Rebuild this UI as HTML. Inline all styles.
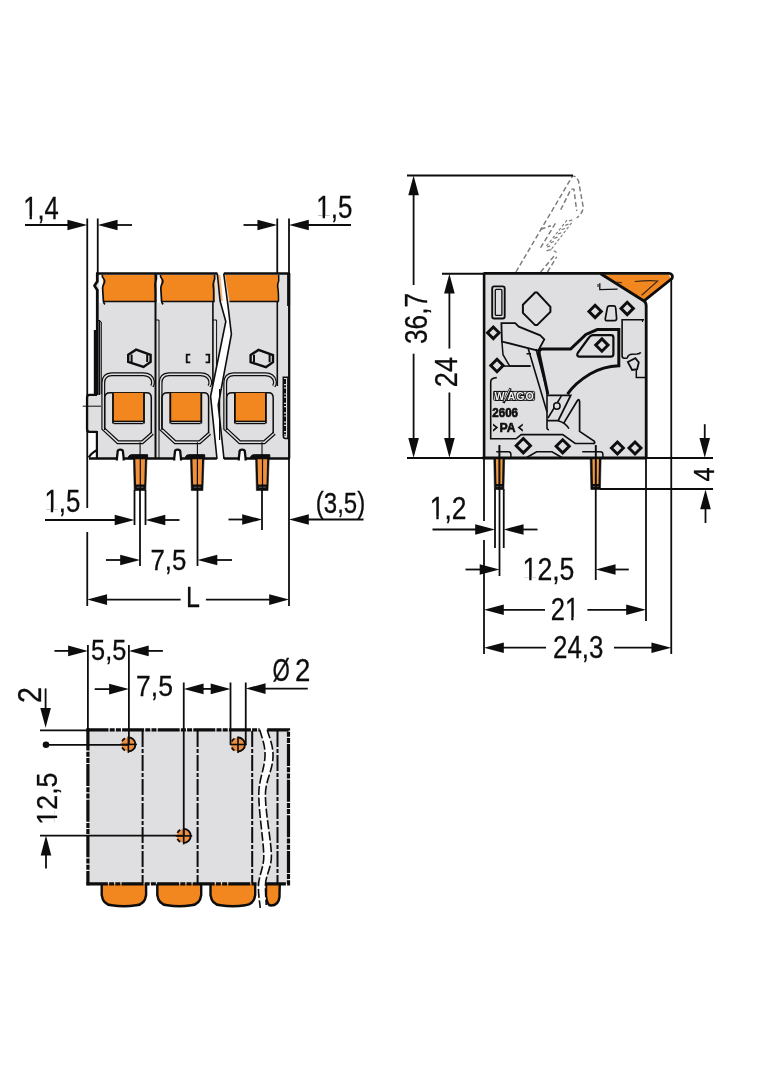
<!DOCTYPE html><html><head><meta charset="utf-8"><style>html,body{margin:0;padding:0;background:#fff;}svg{display:block;will-change:transform;}text{font-family:"Liberation Sans",sans-serif;}</style></head><body>
<svg width="784" height="1066" viewBox="0 0 784 1066">
<rect width="784" height="1066" fill="#fff"/>
<rect x="97" y="273.5" width="192.4" height="185" fill="#dfdfe1"/>
<rect x="98.7" y="275" width="4.8" height="28" fill="#f4f8fc"/>
<rect x="156.4" y="275" width="5.4" height="28" fill="#f4f8fc"/>
<rect x="103" y="275" width="53.5" height="26.5" fill="#f2861f"/>
<rect x="161" y="275" width="53.8" height="26.5" fill="#f2861f"/>
<polygon points="225.1,275 278.7,275 278.7,301.5 229.5,301.5" fill="#f2861f"/>
<line x1="103.50" y1="301.50" x2="156.50" y2="301.50" stroke="#0d0d0d" stroke-width="1.60" />
<line x1="161.50" y1="301.50" x2="214.80" y2="301.50" stroke="#0d0d0d" stroke-width="1.60" />
<line x1="229.50" y1="301.50" x2="278.70" y2="301.50" stroke="#0d0d0d" stroke-width="1.60" />
<path d="M102.2,275 L102.5,277 Q105.0,280 104.6,282 Q102.6,286 102.6,288 L103.4,301.5 Q104.0,303.5 105.0,304.3" fill="none" stroke="#0d0d0d" stroke-width="1.70" />
<path d="M160.4,275 L160.7,277 Q163.2,280 162.8,282 Q160.8,286 160.8,288 L161.6,301.5 Q162.2,303.5 163.2,304.3" fill="none" stroke="#0d0d0d" stroke-width="1.70" />
<path d="M156.4,275 L156.4,279 Q154.8,283 155.0,285 Q155.6,289 155.5,293 L155.5,301.5" fill="none" stroke="#0d0d0d" stroke-width="1.70" />
<path d="M214.6,275 L214.6,279 Q213.0,283 213.2,285 Q213.8,289 213.7,293 L213.7,301.5" fill="none" stroke="#0d0d0d" stroke-width="1.70" />
<path d="M278.7,275 L278.7,281 Q277.2,284 277.6,287 Q278.6,290 278.5,301.5" fill="none" stroke="#0d0d0d" stroke-width="1.50" />
<path d="M97.3,273 L97.3,281.5 Q95.5,284 94.6,285.7 Q95.5,287.5 97.3,290 L97.3,395" fill="none" stroke="#0d0d0d" stroke-width="2.80" />
<path d="M95.6,330 L95.6,394.5" fill="none" stroke="#0d0d0d" stroke-width="3.60" />
<line x1="99.60" y1="320.00" x2="99.60" y2="395.00" stroke="#0d0d0d" stroke-width="1.20" />
<path d="M97.5,320 L101.3,322 L101.3,394" fill="none" stroke="#0d0d0d" stroke-width="1.00" />
<path d="M97,394.8 L89.5,394.8 Q87,394.8 87,397.5 L87,429 Q87,431.8 89.5,431.8 L97,431.8" fill="#dfdfe1" stroke="#0d0d0d" stroke-width="2.20" />
<line x1="82.70" y1="406.20" x2="101.00" y2="406.20" stroke="#0d0d0d" stroke-width="1.00" />
<line x1="96.90" y1="431.00" x2="96.90" y2="458.00" stroke="#0d0d0d" stroke-width="2.20" />
<path d="M88.6,457.5 Q91,453.8 93,452.6 Q95,451.3 96.8,450.3" fill="none" stroke="#0d0d0d" stroke-width="2.20" />
<line x1="155.50" y1="273.00" x2="155.50" y2="458.00" stroke="#0d0d0d" stroke-width="2.00" />
<line x1="159.00" y1="320.00" x2="159.00" y2="458.00" stroke="#0d0d0d" stroke-width="1.00" />
<path d="M155.5,320 L159,320" fill="none" stroke="#0d0d0d" stroke-width="1.00" />
<line x1="212.90" y1="301.50" x2="212.90" y2="384.50" stroke="#0d0d0d" stroke-width="1.60" />
<line x1="216.60" y1="320.00" x2="216.60" y2="383.00" stroke="#0d0d0d" stroke-width="1.00" />
<path d="M212.9,320 L216.6,320" fill="none" stroke="#0d0d0d" stroke-width="1.00" />
<line x1="277.30" y1="301.00" x2="277.30" y2="386.00" stroke="#0d0d0d" stroke-width="1.60" />
<line x1="288.60" y1="273.00" x2="288.60" y2="306.00" stroke="#0d0d0d" stroke-width="3.00" />
<line x1="289.40" y1="273.00" x2="289.40" y2="458.50" stroke="#0d0d0d" stroke-width="1.80" />
<path d="M283.3,377.2 L287.9,377.2 L287.9,438.5 L285.6,438.5 Q283.3,438.5 283.3,436 Z" fill="#dfdfe1" stroke="#0d0d0d" stroke-width="1.50" />
<line x1="285.00" y1="379.00" x2="285.00" y2="436.00" stroke="#0d0d0d" stroke-width="2.00" stroke-dasharray="5 1.2 2 1.2"/>
<line x1="96.00" y1="273.50" x2="289.80" y2="273.50" stroke="#0d0d0d" stroke-width="2.50" />
<line x1="89.00" y1="458.50" x2="290.00" y2="458.50" stroke="#0d0d0d" stroke-width="2.60" />
<g transform="translate(-57.30 0)">
<path d="M209.2,386.2 Q210.6,384 210.3,381.5 Q209,374.4 200.5,374.3 L169,374.3 Q160.6,374.6 160.6,383 L160.6,428.6 L175.2,442.2 L199.6,442.2 L209.8,433.3" fill="none" stroke="#0d0d0d" stroke-width="3.90" />
<path d="M209.2,386.2 Q210.6,384 210.3,381.5 Q209,374.4 200.5,374.3 L169,374.3 Q160.6,374.6 160.6,383 L160.6,428.6 L175.2,442.2 L199.6,442.2 L209.8,433.3" fill="none" stroke="#dfdfe1" stroke-width="1.50" />
<path d="M162,430 L162,398 Q162,392.8 167.5,392.8 L204,392.8 Q208.6,392.8 208.6,398 L208.6,433.3" fill="none" stroke="#0d0d0d" stroke-width="1.50" />
<rect x="169.5" y="392.9" width="32.6" height="28.3" fill="#f2861f"/>
<path d="M170.3,393 L170.3,423.5 M201.3,393 L201.3,423.5" fill="none" stroke="#0d0d0d" stroke-width="1.80" />
<line x1="170.30" y1="421.40" x2="201.30" y2="421.40" stroke="#0d0d0d" stroke-width="1.50" />
<line x1="171.00" y1="423.60" x2="200.60" y2="423.60" stroke="#0d0d0d" stroke-width="1.20" />
<path d="M174.2,460.5 L174.2,458.5 L175,451.5 Q175,449.6 177.6,449.6 Q180.2,449.6 180.2,451.5 L181,458.5 L181,460.5" fill="#fff" stroke="#0d0d0d" stroke-width="2.30" />
<line x1="197.40" y1="442.20" x2="197.40" y2="456.00" stroke="#0d0d0d" stroke-width="1.10" />
</g>
<g transform="translate(0.00 0)">
<path d="M209.2,386.2 Q210.6,384 210.3,381.5 Q209,374.4 200.5,374.3 L169,374.3 Q160.6,374.6 160.6,383 L160.6,428.6 L175.2,442.2 L199.6,442.2 L209.8,433.3" fill="none" stroke="#0d0d0d" stroke-width="3.90" />
<path d="M209.2,386.2 Q210.6,384 210.3,381.5 Q209,374.4 200.5,374.3 L169,374.3 Q160.6,374.6 160.6,383 L160.6,428.6 L175.2,442.2 L199.6,442.2 L209.8,433.3" fill="none" stroke="#dfdfe1" stroke-width="1.50" />
<path d="M162,430 L162,398 Q162,392.8 167.5,392.8 L204,392.8 Q208.6,392.8 208.6,398 L208.6,433.3" fill="none" stroke="#0d0d0d" stroke-width="1.50" />
<rect x="169.5" y="392.9" width="32.6" height="28.3" fill="#f2861f"/>
<path d="M170.3,393 L170.3,423.5 M201.3,393 L201.3,423.5" fill="none" stroke="#0d0d0d" stroke-width="1.80" />
<line x1="170.30" y1="421.40" x2="201.30" y2="421.40" stroke="#0d0d0d" stroke-width="1.50" />
<line x1="171.00" y1="423.60" x2="200.60" y2="423.60" stroke="#0d0d0d" stroke-width="1.20" />
<path d="M174.2,460.5 L174.2,458.5 L175,451.5 Q175,449.6 177.6,449.6 Q180.2,449.6 180.2,451.5 L181,458.5 L181,460.5" fill="#fff" stroke="#0d0d0d" stroke-width="2.30" />
<line x1="197.40" y1="442.20" x2="197.40" y2="456.00" stroke="#0d0d0d" stroke-width="1.10" />
</g>
<g transform="translate(64.60 0)">
<path d="M209.2,386.2 Q210.6,384 210.3,381.5 Q209,374.4 200.5,374.3 L169,374.3 Q160.6,374.6 160.6,383 L160.6,428.6 L175.2,442.2 L199.6,442.2 L209.8,433.3" fill="none" stroke="#0d0d0d" stroke-width="3.90" />
<path d="M209.2,386.2 Q210.6,384 210.3,381.5 Q209,374.4 200.5,374.3 L169,374.3 Q160.6,374.6 160.6,383 L160.6,428.6 L175.2,442.2 L199.6,442.2 L209.8,433.3" fill="none" stroke="#dfdfe1" stroke-width="1.50" />
<path d="M162,430 L162,398 Q162,392.8 167.5,392.8 L204,392.8 Q208.6,392.8 208.6,398 L208.6,433.3" fill="none" stroke="#0d0d0d" stroke-width="1.50" />
<rect x="169.5" y="392.9" width="32.6" height="28.3" fill="#f2861f"/>
<path d="M170.3,393 L170.3,423.5 M201.3,393 L201.3,423.5" fill="none" stroke="#0d0d0d" stroke-width="1.80" />
<line x1="170.30" y1="421.40" x2="201.30" y2="421.40" stroke="#0d0d0d" stroke-width="1.50" />
<line x1="171.00" y1="423.60" x2="200.60" y2="423.60" stroke="#0d0d0d" stroke-width="1.20" />
<path d="M174.2,460.5 L174.2,458.5 L175,451.5 Q175,449.6 177.6,449.6 Q180.2,449.6 180.2,451.5 L181,458.5 L181,460.5" fill="#fff" stroke="#0d0d0d" stroke-width="2.30" />
<line x1="197.40" y1="442.20" x2="197.40" y2="456.00" stroke="#0d0d0d" stroke-width="1.10" />
</g>
<path d="M128.2,354.8 L136.1,349.7 L150.6,354.8 L150.6,361.9 L143.5,367.0 L128.2,361.9 Z" fill="#dfdfe1" stroke="#0d0d0d" stroke-width="2.40" stroke-linejoin="miter"/>
<line x1="131.60" y1="354.60" x2="131.60" y2="362.00" stroke="#0d0d0d" stroke-width="2.00" />
<line x1="147.20" y1="354.60" x2="147.20" y2="362.00" stroke="#0d0d0d" stroke-width="2.00" />
<path d="M250.6,355.1 L258.5,349.9 L273.0,355.1 L273.0,362.1 L265.9,367.2 L250.6,362.1 Z" fill="#dfdfe1" stroke="#0d0d0d" stroke-width="2.40" stroke-linejoin="miter"/>
<line x1="254.00" y1="354.85" x2="254.00" y2="362.25" stroke="#0d0d0d" stroke-width="2.00" />
<line x1="269.60" y1="354.85" x2="269.60" y2="362.25" stroke="#0d0d0d" stroke-width="2.00" />
<path d="M190.3,354.7 h-3.6 v7.6 h3.6" fill="none" stroke="#0d0d0d" stroke-width="1.80" />
<path d="M205.6,354.7 h3.6 v7.6 h-3.6" fill="none" stroke="#0d0d0d" stroke-width="1.80" />
<polygon points="217.3,271.5 220.1,301 225.8,321.5 210.6,396.3 217,461 224,461 218.2,405 231.4,334.2 228.2,307.4 223.7,271.5" fill="#fff"/>
<polygon points="217.8,275 220.5,301 222.8,301 220.5,275" fill="#f2861f" opacity="0.6"/>
<path d="M217.3,273.5 L218.5,285 L220.1,301 L225.8,321.5 L210.6,396.3 L217,459" fill="none" stroke="#0d0d0d" stroke-width="1.60" />
<path d="M223.7,273.5 L228.2,307.4 L231.4,334.2 L218.2,405 L224,459" fill="none" stroke="#0d0d0d" stroke-width="1.60" />
<line x1="219.60" y1="389.00" x2="219.60" y2="440.00" stroke="#0d0d0d" stroke-width="1.20" />
<path d="M127.9,458.6 L128.9,456 Q129.9,454.7 131.9,454.7 L147.6,454.7 L147.6,458.6 Z" fill="#0d0d0d" stroke="#0d0d0d" stroke-width="1.00" />
<polygon points="133.4,458 134.2,490.5 145.8,490.5 147.0,458" fill="#0d0d0d" stroke="#0d0d0d" stroke-width="0.6" stroke-linejoin="round"/>
<polygon points="135.3,459.3 136.0,484.6 144.3,484.6 145.0,459.3" fill="#f0903a"/>
<line x1="136.70" y1="487.20" x2="143.50" y2="487.20" stroke="#777" stroke-width="0.80" />
<line x1="140.30" y1="455.00" x2="140.30" y2="491.00" stroke="#0d0d0d" stroke-width="1.20" />
<path d="M185.0,458.6 L186.0,456 Q187.0,454.7 189.0,454.7 L204.7,454.7 L204.7,458.6 Z" fill="#0d0d0d" stroke="#0d0d0d" stroke-width="1.00" />
<polygon points="190.5,458 191.3,490.5 202.9,490.5 204.1,458" fill="#0d0d0d" stroke="#0d0d0d" stroke-width="0.6" stroke-linejoin="round"/>
<polygon points="192.4,459.3 193.1,484.6 201.4,484.6 202.1,459.3" fill="#f0903a"/>
<line x1="193.80" y1="487.20" x2="200.60" y2="487.20" stroke="#777" stroke-width="0.80" />
<line x1="197.40" y1="455.00" x2="197.40" y2="491.00" stroke="#0d0d0d" stroke-width="1.20" />
<path d="M250.1,458.6 L251.1,456 Q252.1,454.7 254.1,454.7 L269.8,454.7 L269.8,458.6 Z" fill="#0d0d0d" stroke="#0d0d0d" stroke-width="1.00" />
<polygon points="255.6,458 256.4,490.5 268.0,490.5 269.2,458" fill="#0d0d0d" stroke="#0d0d0d" stroke-width="0.6" stroke-linejoin="round"/>
<polygon points="257.5,459.3 258.2,484.6 266.5,484.6 267.2,459.3" fill="#f0903a"/>
<line x1="258.90" y1="487.20" x2="265.70" y2="487.20" stroke="#777" stroke-width="0.80" />
<line x1="262.50" y1="455.00" x2="262.50" y2="491.00" stroke="#0d0d0d" stroke-width="1.20" />
<path d="M515.9,272 L572.2,176.5 Q575.5,174.8 578.5,181 L583.1,206.3 Q583.4,213 576.7,217.8" fill="none" stroke="#7a7a7a" stroke-width="1.45" stroke-dasharray="5 2.8" stroke-linecap="butt"/>
<path d="M560.7,209.8 L571,189.1 L573.9,189.1 L576.7,210.9" fill="none" stroke="#7a7a7a" stroke-width="1.45" stroke-dasharray="5 2.8" stroke-linecap="butt"/>
<path d="M540.6,247.7 L556.7,221.3" fill="none" stroke="#7a7a7a" stroke-width="1.45" stroke-dasharray="5 2.8" stroke-linecap="butt"/>
<path d="M540.6,229.3 L550.9,225.8" fill="none" stroke="#7a7a7a" stroke-width="1.45" stroke-dasharray="5 2.8" stroke-linecap="butt"/>
<path d="M540.6,272 L555.5,254.5 M547.5,272 L556.7,256.8" fill="none" stroke="#7a7a7a" stroke-width="1.45" stroke-dasharray="5 2.8" stroke-linecap="butt"/>
<path d="M547.0,247.0 l3.2,-1.2 M550.7,242.7 l3.2,-1.2 M554.3,238.3 l3.2,-1.2 M558.0,234.0 l3.2,-1.2 M561.7,229.7 l3.2,-1.2 M565.3,225.3 l3.2,-1.2 M569.0,221.0 l3.2,-1.2" fill="none" stroke="#7a7a7a" stroke-width="1.30" />
<path d="M546.5,246 L567.5,219.5 M551.5,249 L573,221" fill="none" stroke="#7a7a7a" stroke-width="1.10" stroke-dasharray="3 2"/>
<path d="M546.5,251 Q551,248 556.5,252.5" fill="none" stroke="#7a7a7a" stroke-width="1.20" stroke-dasharray="5 2.8" stroke-linecap="butt"/>
<polygon points="484.1,273.3 600.3,273.3 644,301 646,305 646,458 484.1,458" fill="#dfdfe1"/>
<polygon points="603,274.6 668.5,274.6 671,278.5 644,300.5" fill="#f2861f"/>
<path d="M484.1,273.4 L669,273.4 Q673.5,274 672,278.5 L644,300.8" fill="none" stroke="#0d0d0d" stroke-width="2.80" />
<path d="M600.3,273.5 L644,301 Q646.2,302.5 646.2,306 L646.2,458" fill="none" stroke="#0d0d0d" stroke-width="2.80" />
<path d="M634.8,281.5 Q650,280 657.7,281 L641.7,295.3" fill="none" stroke="#3a2a1a" stroke-width="1.20" />
<path d="M615.3,282 L622.1,282.7" fill="none" stroke="#3a2a1a" stroke-width="1.10" />
<path d="M599.8,283.2 L599.8,289.6 L617.6,289.2" fill="none" stroke="#0d0d0d" stroke-width="1.30" />
<line x1="484.10" y1="272.50" x2="484.10" y2="459.00" stroke="#0d0d0d" stroke-width="2.60" />
<line x1="482.50" y1="458.00" x2="647.00" y2="458.00" stroke="#0d0d0d" stroke-width="2.80" />
<rect x="492.2" y="286.4" width="12.5" height="32.1" rx="2" fill="none" stroke="#0d0d0d" stroke-width="1.9"/>
<rect x="495.3" y="289.4" width="6.6" height="26" rx="1" fill="none" stroke="#0d0d0d" stroke-width="1.3"/>
<path d="M522.9,304.7 L535.1,292.5 L537.1,292.5 L550.4,306.8 L550.4,311.9 L537.1,325.1 L535.1,325.1 L522.9,312.9 Z" fill="none" stroke="#0d0d0d" stroke-width="2.00" />
<path d="M493.3,327.0 L499.1,332.8 L493.3,338.6 L487.5,332.8 Z" fill="none" stroke="#0d0d0d" stroke-width="2.90" stroke-linejoin="miter"/>
<path d="M497.0,359.3 L503.2,365.5 L497.0,371.7 L490.8,365.5 Z" fill="none" stroke="#0d0d0d" stroke-width="2.90" stroke-linejoin="miter"/>
<path d="M595.1,305.2 L601.3,311.4 L595.1,317.6 L588.9,311.4 Z" fill="none" stroke="#0d0d0d" stroke-width="2.90" stroke-linejoin="miter"/>
<path d="M627.2,302.2 L633.4,308.4 L627.2,314.6 L621.0,308.4 Z" fill="none" stroke="#0d0d0d" stroke-width="2.90" stroke-linejoin="miter"/>
<path d="M601.9,338.9 L608.1,345.1 L601.9,351.3 L595.7,345.1 Z" fill="none" stroke="#0d0d0d" stroke-width="2.90" stroke-linejoin="miter"/>
<path d="M523.3,438.5 L530.5,445.7 L523.3,452.9 L516.1,445.7 Z" fill="none" stroke="#0d0d0d" stroke-width="2.90" stroke-linejoin="miter"/>
<path d="M562.7,439.7 L569.3,446.3 L562.7,452.9 L556.1,446.3 Z" fill="none" stroke="#0d0d0d" stroke-width="2.90" stroke-linejoin="miter"/>
<path d="M617.4,442.0 L623.4,448.0 L617.4,454.0 L611.4,448.0 Z" fill="none" stroke="#0d0d0d" stroke-width="2.90" stroke-linejoin="miter"/>
<path d="M635.0,442.0 L641.0,448.0 L635.0,454.0 L629.0,448.0 Z" fill="none" stroke="#0d0d0d" stroke-width="2.90" stroke-linejoin="miter"/>
<path d="M609.5,305.9 L614,305.9 Q615.5,306 615.7,308 L616.6,318.5 Q616.6,320.7 614.5,320.7 L607,320.7 Q605,320.7 605.3,318.5 L607.3,308 Q607.7,305.9 609.5,305.9 Z" fill="none" stroke="#0d0d0d" stroke-width="1.70" />
<path d="M501.4,323.1 L515.2,323.1 L518.8,326.7 L540.2,335.3 L544.3,339.4 L538.2,350.7 L530,348.6 L501.9,341.5 Z" fill="none" stroke="#0d0d0d" stroke-width="1.80" />
<path d="M501.9,341.5 L503,354.7 L509.6,366 L530.5,366" fill="none" stroke="#0d0d0d" stroke-width="1.50" />
<path d="M528,348 L547,412" fill="none" stroke="#0d0d0d" stroke-width="1.60" />
<path d="M547,393 L547,428.5 Q547.5,429.8 549,429.6" fill="none" stroke="#0d0d0d" stroke-width="1.60" />
<path d="M536,349 L548.1,394.4" fill="none" stroke="#0d0d0d" stroke-width="1.60" />
<path d="M526.5,353.8 L531,353.8" fill="none" stroke="#0d0d0d" stroke-width="1.50" />
<path d="M538.9,353.5 Q538.9,349.1 542.5,349.1 L570.6,349.1 L585.9,334.4 L597.3,329.5 L618.8,329.5 L618.8,365.8 Q603,366.5 590,374 Q575,383 567.5,394.2" fill="none" stroke="#0d0d0d" stroke-width="3.00" />
<path d="M538.9,352.5 L547.8,394" fill="none" stroke="#0d0d0d" stroke-width="3.00" />
<path d="M579,356.6 Q576,356 578,352.5 L589,337.5 Q590.5,335.2 593,335.2 L611,335.2 Q613.4,335.2 613.4,337.5 L613.4,354 Q613.4,356.6 611,356.6 Z" fill="none" stroke="#0d0d0d" stroke-width="2.20" />
<path d="M547,395.3 L570.7,395.3 L558.2,420.7 L547,420.7" fill="none" stroke="#0d0d0d" stroke-width="1.80" />
<path d="M558.2,420.7 Q566,423 568.9,428.75" fill="none" stroke="#0d0d0d" stroke-width="1.60" />
<path d="M561.3,396.2 L548,418" fill="none" stroke="#0d0d0d" stroke-width="1.60" />
<circle cx="556.9" cy="406" r="3.2" fill="#dfdfe1" stroke="#0d0d0d" stroke-width="1.5"/>
<path d="M563.6,423.4 L577.3,400.8 Q578.9,398.2 579.6,401.5 L579.6,431.4 L594.4,441.25 Q595.5,443.5 593,443.5" fill="none" stroke="#0d0d0d" stroke-width="1.70" />
<path d="M496.8,377.6 Q490.7,377.8 490.7,382 L490.7,438.8 L516,438.8 L521.3,434.6 L562.7,434.6 L575.2,443.5 L593.5,443.5" fill="none" stroke="#0d0d0d" stroke-width="1.60" />
<path d="M525.9,458 L536.6,451.8 L552,451.8 L562.7,458" fill="none" stroke="#0d0d0d" stroke-width="1.60" />
<path d="M503.5,366.1 L530.5,366.1" fill="none" stroke="#0d0d0d" stroke-width="1.50" />
<path d="M644,319.8 L622.1,319.8 L622.1,356 Q622.1,358.2 624.5,358.2 L626.3,358.2 Q627.8,358 627.8,356.5 Q628.5,354.5 632,354.2 L637,354 Q640,353.8 640.7,352.3" fill="none" stroke="#0d0d0d" stroke-width="1.60" />
<path d="M642.5,319.8 L642.5,322" fill="none" stroke="#0d0d0d" stroke-width="1.20" />
<path d="M627.8,362 L635.4,358.2 L638.8,362.4 L637.1,369.2 L632.1,370 Z" fill="none" stroke="#0d0d0d" stroke-width="1.80" />
<path d="M636.3,370 L636.3,377.6 L645.7,377.6" fill="none" stroke="#0d0d0d" stroke-width="1.50" />
<path d="M598,287 L598,284" fill="none" stroke="#0d0d0d" stroke-width="1.00" />
<path d="M496.3,451.8 L508.4,451.8 Q510.9,451.8 510.9,454.5 L510.9,458" fill="none" stroke="#0d0d0d" stroke-width="1.50" />
<path d="M582.2,451.8 L600.4,451.8 Q602.9,451.8 602.9,454.5 L602.9,458" fill="none" stroke="#0d0d0d" stroke-width="1.50" />
<rect x="493.6" y="391.4" width="41" height="9" rx="1" fill="none" stroke="#0d0d0d" stroke-width="0.9"/>
<text transform="translate(494.6 399.8) scale(1.0 1)" font-size="10.6" font-weight="bold" fill="#f2f2f2" stroke="#0d0d0d" stroke-width="1.9" paint-order="stroke" letter-spacing="0.4">W</text>
<text transform="translate(507.6 399.8) scale(1.0 1)" font-size="10.6" font-weight="bold" fill="#f2f2f2" stroke="#0d0d0d" stroke-width="1.9" paint-order="stroke" letter-spacing="1.0">AGO</text>
<path d="M503.5,403 L510.5,388.2" fill="none" stroke="#0d0d0d" stroke-width="2.60" />
<path d="M503.8,401.5 L510,388.8" fill="none" stroke="#f2f2f2" stroke-width="0.90" />
<text transform="translate(492.3 416.5) scale(0.87 1)" font-size="13.3" font-weight="bold" fill="#0d0d0d" stroke="#0d0d0d" stroke-width="0.7">2606</text>
<text transform="translate(499.4 432.4) scale(0.92 1)" font-size="13.3" font-weight="bold" fill="#0d0d0d" stroke="#0d0d0d" stroke-width="0.6">PA</text>
<polygon points="493,423.5 498.2,427.6 493,431.7 493,429.6 495.6,427.6 493,425.6" fill="#0d0d0d"/>
<polygon points="522.8,423.5 517.6,427.6 522.8,431.7 522.8,429.6 520.2,427.6 522.8,425.6" fill="#0d0d0d"/>
<polygon points="493.8,458 494.4,489.5 503.9,489.5 504.7,458" fill="#0d0d0d" stroke="#0d0d0d" stroke-width="0.6" stroke-linejoin="round"/>
<polygon points="495.9,459.3 496.4,483.9 502.1,483.9 502.6,459.3" fill="#ef9a45"/>
<line x1="496.50" y1="486.60" x2="501.90" y2="486.60" stroke="#777" stroke-width="0.80" />
<line x1="499.30" y1="445.60" x2="499.30" y2="490.00" stroke="#0d0d0d" stroke-width="1.30" />
<polygon points="590.2,458 590.9,489.5 600.4,489.5 601.1,458" fill="#0d0d0d" stroke="#0d0d0d" stroke-width="0.6" stroke-linejoin="round"/>
<polygon points="592.4,459.3 592.9,483.9 598.5,483.9 599.0,459.3" fill="#ef9a45"/>
<line x1="592.95" y1="486.60" x2="598.35" y2="486.60" stroke="#777" stroke-width="0.80" />
<line x1="595.75" y1="445.60" x2="595.75" y2="490.00" stroke="#0d0d0d" stroke-width="1.30" />
<path d="M101.7,882 L101.7,895 Q102.9,904.5 111.7,905.3 Q123.9,907.3 136.1,905.3 Q144.9,904.5 146.1,895 L146.1,882" fill="#f2861f" stroke="#0d0d0d" stroke-width="2.40" />
<path d="M157.3,882 L157.3,895 Q158.5,904.5 167.3,905.3 Q179.2,907.3 191.2,905.3 Q200.0,904.5 201.2,895 L201.2,882" fill="#f2861f" stroke="#0d0d0d" stroke-width="2.40" />
<path d="M210.5,882 L210.5,895 Q211.7,904.5 220.5,905.3 Q232.8,907.3 245.2,905.3 Q254.0,904.5 255.2,895 L255.2,882" fill="#f2861f" stroke="#0d0d0d" stroke-width="2.40" />
<path d="M266,882 L266,896 Q267,905.5 271,905.5 Q278.5,905.5 279.5,897 L279.8,882" fill="#f2861f" stroke="#0d0d0d" stroke-width="2.40" />
<rect x="87.9" y="729.8" width="200.7" height="154" fill="#dfdfe1"/>
<path d="M86.5,729.8 L259.7,729.8 M267.2,729.8 L288.5,729.8 L288.5,883.9 L86.5,883.9" fill="none" stroke="#0d0d0d" stroke-width="3.20" stroke-dasharray="22 1.2 5 1.2 5 1.2"/>
<line x1="87.90" y1="728.50" x2="87.90" y2="885.20" stroke="#0d0d0d" stroke-width="3.20" stroke-dasharray="22 1.2 5 1.2 5 1.2"/>
<line x1="142.60" y1="731.00" x2="142.60" y2="883.00" stroke="#0d0d0d" stroke-width="2.00" stroke-dasharray="16 2 4 2"/>
<line x1="197.60" y1="731.00" x2="197.60" y2="883.00" stroke="#0d0d0d" stroke-width="2.00" stroke-dasharray="16 2 4 2"/>
<line x1="252.20" y1="731.00" x2="252.20" y2="883.00" stroke="#0d0d0d" stroke-width="2.00" stroke-dasharray="16 2 4 2"/>
<line x1="277.50" y1="731.00" x2="277.50" y2="883.00" stroke="#0d0d0d" stroke-width="2.00" stroke-dasharray="16 2 4 2"/>
<path d="M259.7,729.8 C262,738 265.5,746 265,756 C264.5,770 258.5,780 258.8,795 C259,815 263.5,840 263.8,856 C264,868 258.2,876 258.4,888 C258.6,898 260,903 260.2,908 L266.25,905 C266,901 265.6,896 265.4,886 C265.2,876 271.5,868 271.4,856 C271.2,840 265.6,815 265.4,795 C265.3,781 272.5,771 273,757 C273.5,746 269.5,738 267.2,729.8 Z" fill="#fff"/>
<path d="M259.7,729.8 C262,738 265.5,746 265,756 C264.5,770 258.5,780 258.8,795 C259,815 263.5,840 263.8,856 C264,868 258.2,876 258.4,888 C258.6,898 260,903 260.2,908" fill="none" stroke="#0d0d0d" stroke-width="1.60" stroke-dasharray="9 2.5"/>
<path d="M267.2,729.8 C269.5,738 273.5,746 273,757 C272.5,771 265.3,781 265.4,795 C265.6,815 271.2,840 271.4,856 C271.5,868 265.2,876 265.4,886 C265.6,896 266,901 266.25,905" fill="none" stroke="#0d0d0d" stroke-width="1.60" stroke-dasharray="9 2.5"/>
<circle cx="128.4" cy="744.4" r="7.0" fill="#ee9040"/>
<path d="M128.4,737.4 A7,7 0 1,1 128.4,751.4" fill="none" stroke="#0d0d0d" stroke-width="1.90" />
<path d="M122.1,741.4 A7,7 0 0,1 124.9,738.4 M122.1,747.4 A7,7 0 0,0 124.9,750.4" fill="none" stroke="#0d0d0d" stroke-width="1.80" />
<line x1="120.40" y1="744.40" x2="136.90" y2="744.40" stroke="#0d0d0d" stroke-width="1.60" />
<line x1="128.40" y1="736.40" x2="128.40" y2="752.90" stroke="#0d0d0d" stroke-width="1.60" />
<circle cx="238.0" cy="744.5" r="7.0" fill="#ee9040"/>
<path d="M238.0,737.5 A7,7 0 1,1 238.0,751.5" fill="none" stroke="#0d0d0d" stroke-width="1.90" />
<path d="M231.7,741.5 A7,7 0 0,1 234.5,738.5 M231.7,747.5 A7,7 0 0,0 234.5,750.5" fill="none" stroke="#0d0d0d" stroke-width="1.80" />
<line x1="230.00" y1="744.50" x2="246.50" y2="744.50" stroke="#0d0d0d" stroke-width="1.60" />
<line x1="238.00" y1="736.50" x2="238.00" y2="753.00" stroke="#0d0d0d" stroke-width="1.60" />
<circle cx="183.7" cy="835.9" r="7.0" fill="#ee9040"/>
<path d="M183.7,828.9 A7,7 0 1,1 183.7,842.9" fill="none" stroke="#0d0d0d" stroke-width="1.90" />
<path d="M177.4,832.9 A7,7 0 0,1 180.2,829.9 M177.4,838.9 A7,7 0 0,0 180.2,841.9" fill="none" stroke="#0d0d0d" stroke-width="1.80" />
<line x1="175.70" y1="835.90" x2="192.20" y2="835.90" stroke="#0d0d0d" stroke-width="1.60" />
<line x1="183.70" y1="827.90" x2="183.70" y2="844.40" stroke="#0d0d0d" stroke-width="1.60" />
<line x1="87.25" y1="218.50" x2="87.25" y2="508.00" stroke="#0d0d0d" stroke-width="1.80" />
<line x1="87.25" y1="532.00" x2="87.25" y2="606.00" stroke="#0d0d0d" stroke-width="1.80" />
<line x1="97.75" y1="218.50" x2="97.75" y2="274.00" stroke="#0d0d0d" stroke-width="1.80" />
<line x1="25.00" y1="225.00" x2="70.00" y2="225.00" stroke="#0d0d0d" stroke-width="1.80" />
<polygon points="87.25,225.00 67.45,219.70 67.45,230.30" fill="#0d0d0d"/>
<line x1="110.00" y1="225.00" x2="132.00" y2="225.00" stroke="#0d0d0d" stroke-width="1.80" />
<polygon points="97.75,225.00 117.55,219.70 117.55,230.30" fill="#0d0d0d"/>
<g transform="translate(23.25 218.75) scale(0.815 1)"><text font-size="31.44" fill="#0d0d0d" stroke="#0d0d0d" stroke-width="0.3">1,4</text>
<rect x="1.26" y="-2.77" width="6.51" height="4.09" fill="#fff"/>
<rect x="10.59" y="-2.77" width="6.29" height="4.09" fill="#fff"/>
</g>
<line x1="277.25" y1="218.50" x2="277.25" y2="274.00" stroke="#0d0d0d" stroke-width="1.80" />
<line x1="289.00" y1="218.50" x2="289.00" y2="606.00" stroke="#0d0d0d" stroke-width="1.80" />
<line x1="243.50" y1="225.00" x2="260.00" y2="225.00" stroke="#0d0d0d" stroke-width="1.80" />
<polygon points="277.25,225.00 257.45,219.70 257.45,230.30" fill="#0d0d0d"/>
<line x1="300.00" y1="225.00" x2="351.00" y2="225.00" stroke="#0d0d0d" stroke-width="1.80" />
<polygon points="289.00,225.00 308.80,219.70 308.80,230.30" fill="#0d0d0d"/>
<g transform="translate(316.22 218.30) scale(0.844 1)"><text font-size="30.79" fill="#0d0d0d" stroke="#0d0d0d" stroke-width="0.3">1,5</text>
<rect x="1.23" y="-2.71" width="6.37" height="4.00" fill="#fff"/>
<rect x="10.38" y="-2.71" width="6.16" height="4.00" fill="#fff"/>
</g>
<line x1="45.00" y1="520.00" x2="120.00" y2="520.00" stroke="#0d0d0d" stroke-width="1.80" />
<polygon points="134.50,520.00 114.70,514.70 114.70,525.30" fill="#0d0d0d"/>
<line x1="134.50" y1="490.00" x2="134.50" y2="525.00" stroke="#0d0d0d" stroke-width="1.80" />
<line x1="145.50" y1="490.00" x2="145.50" y2="525.00" stroke="#0d0d0d" stroke-width="1.80" />
<polygon points="145.50,520.00 165.30,514.70 165.30,525.30" fill="#0d0d0d"/>
<line x1="160.00" y1="520.00" x2="179.50" y2="520.00" stroke="#0d0d0d" stroke-width="1.80" />
<g transform="translate(44.43 512.20) scale(0.837 1)"><text font-size="30.94" fill="#0d0d0d" stroke="#0d0d0d" stroke-width="0.3">1,5</text>
<rect x="1.24" y="-2.72" width="6.40" height="4.02" fill="#fff"/>
<rect x="10.43" y="-2.72" width="6.19" height="4.02" fill="#fff"/>
</g>
<line x1="140.00" y1="490.00" x2="140.00" y2="566.00" stroke="#0d0d0d" stroke-width="1.80" />
<line x1="197.50" y1="490.00" x2="197.50" y2="566.00" stroke="#0d0d0d" stroke-width="1.80" />
<line x1="106.00" y1="560.00" x2="125.00" y2="560.00" stroke="#0d0d0d" stroke-width="1.80" />
<polygon points="140.00,560.00 120.20,554.70 120.20,565.30" fill="#0d0d0d"/>
<polygon points="197.50,560.00 217.30,554.70 217.30,565.30" fill="#0d0d0d"/>
<line x1="212.00" y1="560.00" x2="232.00" y2="560.00" stroke="#0d0d0d" stroke-width="1.80" />
<g transform="translate(150.41 569.80) scale(0.861 1)"><text font-size="29.93" fill="#0d0d0d" stroke="#0d0d0d" stroke-width="0.3">7,5</text>
</g>
<line x1="262.00" y1="490.00" x2="262.00" y2="530.00" stroke="#0d0d0d" stroke-width="1.80" />
<line x1="228.50" y1="519.50" x2="245.00" y2="519.50" stroke="#0d0d0d" stroke-width="1.80" />
<polygon points="262.00,519.50 242.20,514.20 242.20,524.80" fill="#0d0d0d"/>
<polygon points="289.00,519.50 308.80,514.20 308.80,524.80" fill="#0d0d0d"/>
<line x1="305.00" y1="519.50" x2="363.50" y2="519.50" stroke="#0d0d0d" stroke-width="1.80" />
<g transform="translate(315.86 512.50) scale(0.838 1)"><text font-size="28.63" fill="#0d0d0d" stroke="#0d0d0d" stroke-width="0.3">(3,5)</text>
</g>
<polygon points="87.25,599.60 107.05,594.30 107.05,604.90" fill="#0d0d0d"/>
<line x1="100.00" y1="599.60" x2="180.60" y2="599.60" stroke="#0d0d0d" stroke-width="1.80" />
<line x1="205.90" y1="599.60" x2="275.00" y2="599.60" stroke="#0d0d0d" stroke-width="1.80" />
<polygon points="289.00,599.60 269.20,594.30 269.20,604.90" fill="#0d0d0d"/>
<g transform="translate(186.00 607.00) scale(0.823 1)"><text font-size="30.36" fill="#0d0d0d" stroke="#0d0d0d" stroke-width="0.3">L</text>
</g>
<line x1="407.00" y1="175.50" x2="573.00" y2="175.50" stroke="#0d0d0d" stroke-width="1.80" />
<polygon points="413.60,175.50 408.30,195.30 418.90,195.30" fill="#0d0d0d"/>
<line x1="413.60" y1="190.00" x2="413.60" y2="285.00" stroke="#0d0d0d" stroke-width="1.80" />
<line x1="413.60" y1="353.70" x2="413.60" y2="445.00" stroke="#0d0d0d" stroke-width="1.80" />
<polygon points="413.60,457.70 408.30,437.90 418.90,437.90" fill="#0d0d0d"/>
<g transform="translate(426.50 344.05) rotate(-90) scale(0.834 1)"><text font-size="31.51" fill="#0d0d0d" stroke="#0d0d0d" stroke-width="0.3">36,7</text>
</g>
<line x1="442.00" y1="273.75" x2="484.00" y2="273.75" stroke="#0d0d0d" stroke-width="1.80" />
<polygon points="449.40,273.75 444.10,293.55 454.70,293.55" fill="#0d0d0d"/>
<line x1="449.40" y1="290.00" x2="449.40" y2="348.60" stroke="#0d0d0d" stroke-width="1.80" />
<line x1="449.40" y1="392.50" x2="449.40" y2="445.00" stroke="#0d0d0d" stroke-width="1.80" />
<polygon points="449.40,457.70 444.10,437.90 454.70,437.90" fill="#0d0d0d"/>
<g transform="translate(456.90 387.16) rotate(-90) scale(0.886 1)"><text font-size="30.79" fill="#0d0d0d" stroke="#0d0d0d" stroke-width="0.3">24</text>
</g>
<line x1="407.00" y1="458.00" x2="713.00" y2="458.00" stroke="#0d0d0d" stroke-width="1.80" />
<line x1="600.00" y1="489.00" x2="713.00" y2="489.00" stroke="#0d0d0d" stroke-width="1.80" />
<line x1="704.75" y1="424.20" x2="704.75" y2="445.00" stroke="#0d0d0d" stroke-width="1.80" />
<polygon points="704.75,457.70 699.45,437.90 710.05,437.90" fill="#0d0d0d"/>
<polygon points="705.50,489.50 700.20,509.30 710.80,509.30" fill="#0d0d0d"/>
<line x1="705.50" y1="500.00" x2="705.50" y2="523.00" stroke="#0d0d0d" stroke-width="1.80" />
<g transform="translate(713.50 481.41) rotate(-90) scale(0.840 1)"><text font-size="30.36" fill="#0d0d0d" stroke="#0d0d0d" stroke-width="0.3">4</text>
</g>
<line x1="484.00" y1="458.00" x2="484.00" y2="521.00" stroke="#0d0d0d" stroke-width="1.80" />
<line x1="484.00" y1="540.00" x2="484.00" y2="654.00" stroke="#0d0d0d" stroke-width="1.80" />
<line x1="495.00" y1="489.00" x2="495.00" y2="548.00" stroke="#0d0d0d" stroke-width="1.80" />
<line x1="503.75" y1="489.00" x2="503.75" y2="548.00" stroke="#0d0d0d" stroke-width="1.80" />
<line x1="432.50" y1="529.50" x2="480.00" y2="529.50" stroke="#0d0d0d" stroke-width="1.80" />
<polygon points="495.00,529.50 475.20,524.20 475.20,534.80" fill="#0d0d0d"/>
<polygon points="503.75,529.50 523.55,524.20 523.55,534.80" fill="#0d0d0d"/>
<line x1="515.00" y1="529.50" x2="537.50" y2="529.50" stroke="#0d0d0d" stroke-width="1.80" />
<g transform="translate(429.79 518.70) scale(0.858 1)"><text font-size="30.79" fill="#0d0d0d" stroke="#0d0d0d" stroke-width="0.3">1,2</text>
<rect x="1.23" y="-2.71" width="6.37" height="4.00" fill="#fff"/>
<rect x="10.38" y="-2.71" width="6.16" height="4.00" fill="#fff"/>
</g>
<line x1="499.50" y1="445.00" x2="499.50" y2="576.00" stroke="#0d0d0d" stroke-width="1.80" />
<line x1="595.75" y1="445.00" x2="595.75" y2="580.00" stroke="#0d0d0d" stroke-width="1.80" />
<line x1="465.50" y1="569.50" x2="485.00" y2="569.50" stroke="#0d0d0d" stroke-width="1.80" />
<polygon points="499.50,569.50 479.70,564.20 479.70,574.80" fill="#0d0d0d"/>
<polygon points="595.75,569.50 615.55,564.20 615.55,574.80" fill="#0d0d0d"/>
<line x1="610.00" y1="569.50" x2="628.75" y2="569.50" stroke="#0d0d0d" stroke-width="1.80" />
<g transform="translate(522.57 580.10) scale(0.846 1)"><text font-size="31.51" fill="#0d0d0d" stroke="#0d0d0d" stroke-width="0.3">12,5</text>
<rect x="1.26" y="-2.77" width="6.52" height="4.10" fill="#fff"/>
<rect x="10.62" y="-2.77" width="6.30" height="4.10" fill="#fff"/>
</g>
<line x1="646.00" y1="458.00" x2="646.00" y2="621.00" stroke="#0d0d0d" stroke-width="1.80" />
<polygon points="484.00,609.80 503.80,604.50 503.80,615.10" fill="#0d0d0d"/>
<line x1="495.00" y1="609.80" x2="545.00" y2="609.80" stroke="#0d0d0d" stroke-width="1.80" />
<g transform="translate(550.72 619.80) scale(0.822 1)"><text font-size="31.08" fill="#0d0d0d" stroke="#0d0d0d" stroke-width="0.3">21</text>
<rect x="18.52" y="-2.73" width="6.43" height="4.04" fill="#fff"/>
<rect x="27.75" y="-2.73" width="6.22" height="4.04" fill="#fff"/>
</g>
<line x1="587.40" y1="609.80" x2="630.00" y2="609.80" stroke="#0d0d0d" stroke-width="1.80" />
<polygon points="646.00,609.80 626.20,604.50 626.20,615.10" fill="#0d0d0d"/>
<line x1="671.25" y1="278.00" x2="671.25" y2="654.00" stroke="#0d0d0d" stroke-width="1.80" />
<polygon points="484.00,647.70 503.80,642.40 503.80,653.00" fill="#0d0d0d"/>
<line x1="495.00" y1="647.70" x2="546.00" y2="647.70" stroke="#0d0d0d" stroke-width="1.80" />
<g transform="translate(553.01 657.90) scale(0.818 1)"><text font-size="31.65" fill="#0d0d0d" stroke="#0d0d0d" stroke-width="0.3">24,3</text>
</g>
<line x1="614.00" y1="647.70" x2="660.00" y2="647.70" stroke="#0d0d0d" stroke-width="1.80" />
<polygon points="671.25,647.70 651.45,642.40 651.45,653.00" fill="#0d0d0d"/>
<line x1="87.90" y1="645.00" x2="87.90" y2="730.00" stroke="#0d0d0d" stroke-width="1.80" />
<line x1="54.50" y1="650.90" x2="70.00" y2="650.90" stroke="#0d0d0d" stroke-width="1.80" />
<polygon points="87.90,650.90 68.10,645.60 68.10,656.20" fill="#0d0d0d"/>
<polygon points="128.90,650.90 148.70,645.60 148.70,656.20" fill="#0d0d0d"/>
<line x1="140.00" y1="650.90" x2="162.90" y2="650.90" stroke="#0d0d0d" stroke-width="1.80" />
<line x1="128.90" y1="645.00" x2="128.90" y2="745.00" stroke="#0d0d0d" stroke-width="1.80" />
<g transform="translate(91.09 660.10) scale(0.863 1)"><text font-size="29.35" fill="#0d0d0d" stroke="#0d0d0d" stroke-width="0.3">5,5</text>
</g>
<line x1="94.70" y1="689.10" x2="110.00" y2="689.10" stroke="#0d0d0d" stroke-width="1.80" />
<polygon points="128.90,689.10 109.10,683.80 109.10,694.40" fill="#0d0d0d"/>
<g transform="translate(136.08 695.80) scale(0.902 1)"><text font-size="29.35" fill="#0d0d0d" stroke="#0d0d0d" stroke-width="0.3">7,5</text>
</g>
<line x1="183.75" y1="682.50" x2="183.75" y2="836.00" stroke="#0d0d0d" stroke-width="1.80" />
<polygon points="183.75,688.90 203.55,683.60 203.55,694.20" fill="#0d0d0d"/>
<polygon points="230.50,688.90 210.70,683.60 210.70,694.20" fill="#0d0d0d"/>
<line x1="200.00" y1="688.90" x2="212.00" y2="688.90" stroke="#0d0d0d" stroke-width="1.80" />
<line x1="230.50" y1="682.50" x2="230.50" y2="745.00" stroke="#0d0d0d" stroke-width="1.80" />
<line x1="245.75" y1="682.50" x2="245.75" y2="745.00" stroke="#0d0d0d" stroke-width="1.80" />
<polygon points="245.75,688.60 265.55,683.30 265.55,693.90" fill="#0d0d0d"/>
<line x1="260.00" y1="688.60" x2="307.80" y2="688.60" stroke="#0d0d0d" stroke-width="1.80" />
<g transform="translate(272.51 681.00) scale(0.710 1)"><text font-size="31.37" fill="#0d0d0d" stroke="#0d0d0d" stroke-width="0.3">&#216;</text>
</g>
<g transform="translate(294.92 681.00) scale(0.880 1)"><text font-size="31.37" fill="#0d0d0d" stroke="#0d0d0d" stroke-width="0.3">2</text>
</g>
<line x1="45.60" y1="688.40" x2="45.60" y2="712.00" stroke="#0d0d0d" stroke-width="1.80" />
<polygon points="45.60,727.80 40.30,708.00 50.90,708.00" fill="#0d0d0d"/>
<line x1="40.00" y1="730.30" x2="88.00" y2="730.30" stroke="#0d0d0d" stroke-width="1.80" />
<g transform="translate(40.90 703.03) rotate(-90) scale(0.886 1)"><text font-size="32.37" fill="#0d0d0d" stroke="#0d0d0d" stroke-width="0.3">2</text>
</g>
<circle cx="46" cy="744.8" r="3.3" fill="#0d0d0d"/>
<line x1="46.00" y1="744.80" x2="129.00" y2="744.80" stroke="#0d0d0d" stroke-width="1.80" />
<g transform="translate(56.90 824.64) rotate(-90) scale(0.902 1)"><text font-size="29.71" fill="#0d0d0d" stroke="#0d0d0d" stroke-width="0.3">12,5</text>
<rect x="1.19" y="-2.61" width="6.15" height="3.86" fill="#fff"/>
<rect x="10.01" y="-2.61" width="5.94" height="3.86" fill="#fff"/>
</g>
<line x1="40.00" y1="835.60" x2="184.00" y2="835.60" stroke="#0d0d0d" stroke-width="1.80" />
<polygon points="46.00,835.60 40.70,855.40 51.30,855.40" fill="#0d0d0d"/>
<line x1="46.00" y1="850.00" x2="46.00" y2="868.40" stroke="#0d0d0d" stroke-width="1.80" />
</svg></body></html>
